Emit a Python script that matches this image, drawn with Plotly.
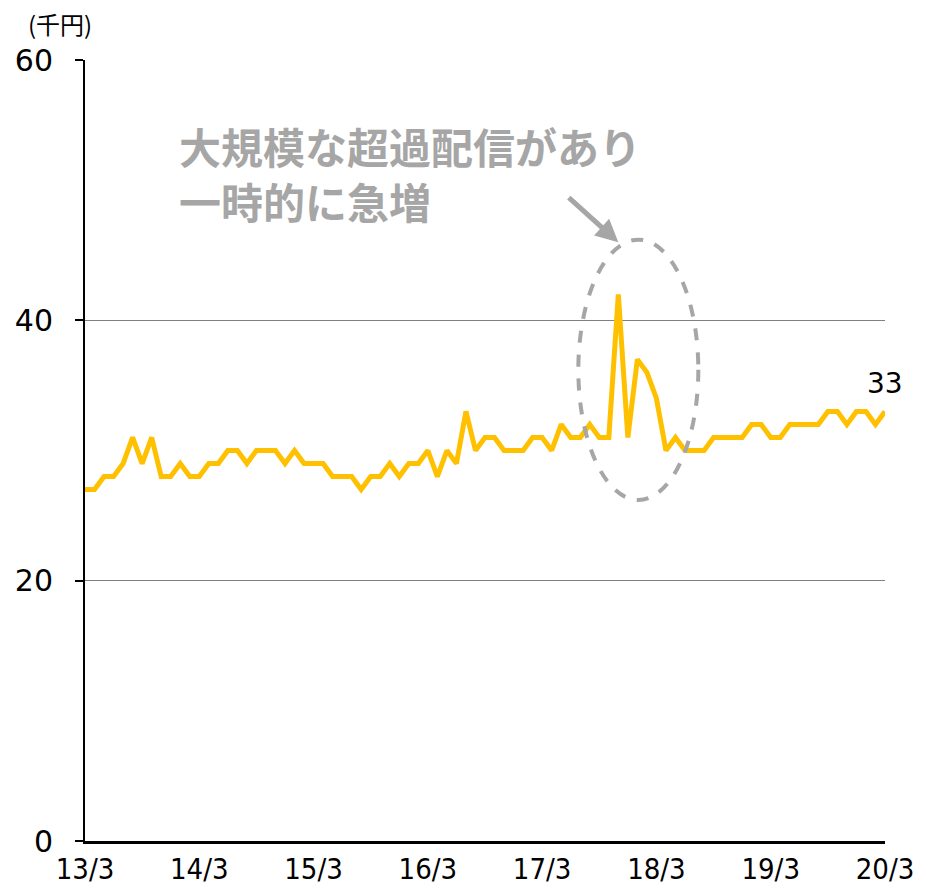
import plotly.graph_objects as go

# Monthly values (thousand yen), March 2013 through March 2020
values = [27, 27, 28, 28, 29, 31, 29, 31, 28, 28, 29, 28, 28, 29, 29, 30, 30, 29, 30, 30,
          30, 29, 30, 29, 29, 29, 28, 28, 28, 27, 28, 28, 29, 28, 29, 29, 30, 28, 30, 29,
          33, 30, 31, 31, 30, 30, 30, 31, 31, 30, 32, 31, 31, 32, 31, 31, 42, 31, 37, 36,
          34, 30, 31, 30, 30, 30, 31, 31, 31, 31, 32, 32, 31, 31, 32, 32, 32, 32, 33, 33,
          32, 33, 33, 32, 33]
months = list(range(len(values)))
tick_positions = [0, 12, 24, 36, 48, 60, 72, 84]
tick_labels = ["13/3", "14/3", "15/3", "16/3", "17/3", "18/3", "19/3", "20/3"]
y_ticks = [0, 20, 40, 60]

note_text = "大規模な超過配信があり<br>一時的に急増"
GRAY = "#A6A6A6"
LINE = "#FFC000"

fig = go.Figure()
fig.add_trace(go.Scatter(
    x=months, y=values, mode="lines",
    line=dict(color=LINE, width=5),
    cliponaxis=False, hoverinfo="skip", showlegend=False,
))

# value label on the last point
fig.add_annotation(
    x=months[-1], y=values[-1], text=str(values[-1]),
    showarrow=False, yshift=28, xanchor="center", yanchor="middle",
    font=dict(family="DejaVu Sans", size=28, color="black"),
)

# spike highlight: dashed ellipse
fig.add_shape(
    type="circle", xref="x", yref="y",
    x0=51.8, x1=64.4, y0=26.2, y1=46.2,
    line=dict(color=GRAY, width=4, dash="dash"),
)

# arrow pointing at the ellipse
fig.add_annotation(
    x=56.0, y=46.0, ax=-51, ay=-46, text="",
    showarrow=True, arrowhead=2, arrowsize=0.9, arrowwidth=5, arrowcolor=GRAY,
)

# explanatory note
fig.add_annotation(
    xref="paper", yref="paper",
    x=(177 - 85) / 800, y=(841 - 113) / 781,
    xanchor="left", yanchor="top", align="left",
    text="<b>" + note_text + "</b>", showarrow=False,
    font=dict(family="Noto Sans CJK JP", size=42, color=GRAY),
)

# unit label
fig.add_annotation(
    xref="paper", yref="paper", x=(26 - 85) / 800, y=(841 - 4) / 781,
    xanchor="left", yanchor="top", text="(千円)", showarrow=False,
    font=dict(family="Noto Sans CJK JP", size=24, color="black"),
)

fig.update_layout(
    width=925, height=885,
    margin=dict(l=85, r=40, t=60, b=44),
    plot_bgcolor="white", paper_bgcolor="white",
    xaxis=dict(
        range=[0, 84], tickmode="array", tickvals=tick_positions, ticktext=tick_labels,
        showgrid=False, zeroline=False, showline=True, linecolor="black", linewidth=3,
        ticks="", automargin=False,
        tickfont=dict(family="Liberation Sans Narrow, DejaVu Sans Condensed", size=29, color="black"),
    ),
    yaxis=dict(
        range=[0, 60], tickmode="array", tickvals=y_ticks,
        showgrid=True, gridcolor="#808080", gridwidth=1, zeroline=False,
        showline=True, linecolor="black", linewidth=2, automargin=False,
        ticks="outside", ticklen=8, tickcolor="black", tickwidth=2, ticklabelstandoff=16,
        tickfont=dict(family="DejaVu Sans", size=30, color="black"),
    ),
)

fig.write_html("out.html")
